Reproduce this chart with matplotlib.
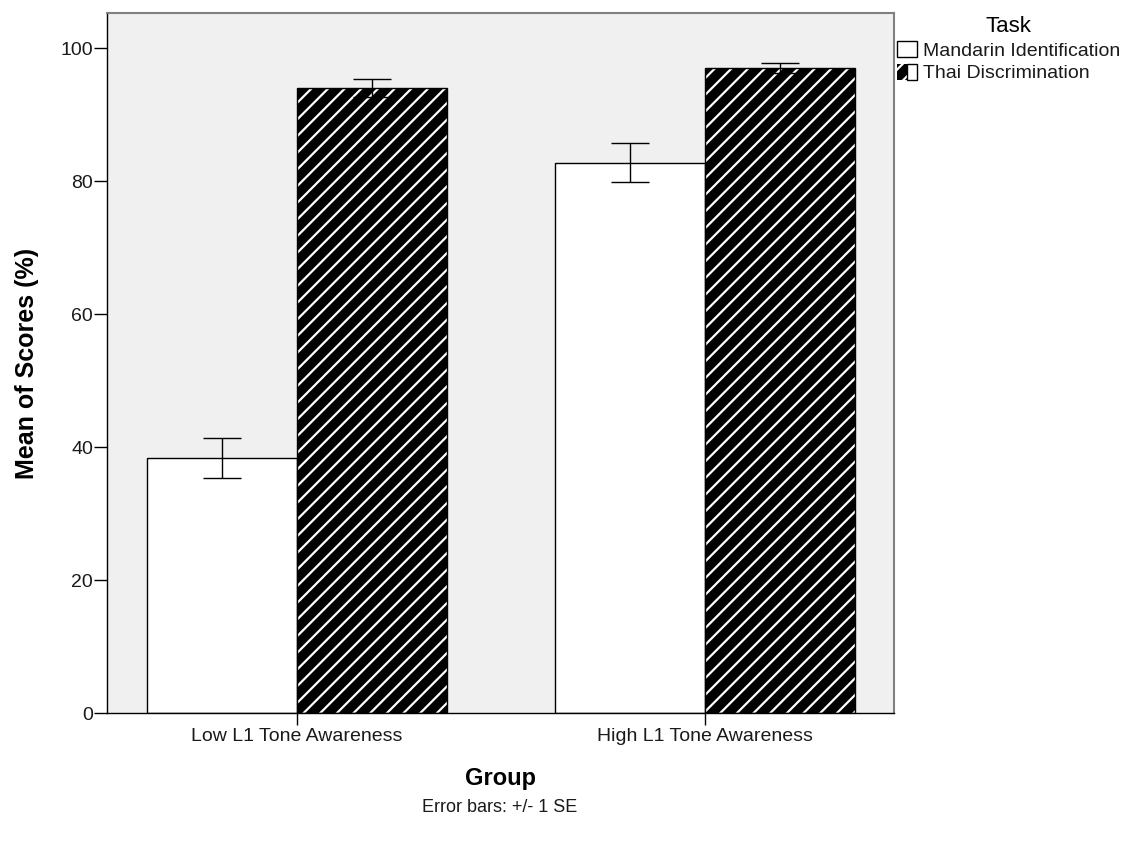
import matplotlib
matplotlib.use("Agg")
import matplotlib.pyplot as plt
import numpy as np
from matplotlib.patches import Patch
from matplotlib.legend_handler import HandlerTuple

plt.rcParams['font.family'] = ['Liberation Sans', 'DejaVu Sans']
plt.rcParams['hatch.linewidth'] = 1.6

groups = ["Low L1 Tone Awareness", "High L1 Tone Awareness"]
tasks = ["Mandarin Identification", "Thai Discrimination"]
mandarin_mean = [38.3, 82.75]
mandarin_se = [3.0, 2.93]
thai_mean = [94.0, 97.05]
thai_se = [1.3, 0.75]
yticks = [0, 20, 40, 60, 80, 100]

fig = plt.figure(figsize=(11.43, 8.43), dpi=100)
ax = fig.add_axes([107/1143, 1-713/843, (894-107)/1143, (713-13)/843])
ax.set_facecolor('#f0f0f0')

x = np.arange(len(groups))
w = 0.368

ax.bar(x - w/2, mandarin_mean, width=w, color='white', edgecolor='black', linewidth=1.0, zorder=2)
ax.bar(x + w/2, thai_mean, width=w, color='black', edgecolor='white', hatch='//', linewidth=0, zorder=2)
ax.bar(x + w/2, thai_mean, width=w, fill=False, edgecolor='black', linewidth=1.0, zorder=3)

ax.errorbar(x - w/2, mandarin_mean, yerr=mandarin_se, fmt='none', ecolor='black',
            elinewidth=1.0, capsize=13.5, capthick=1.0, zorder=4)
ax.errorbar(x + w/2, thai_mean, yerr=thai_se, fmt='none', ecolor='black',
            elinewidth=1.0, capsize=13.5, capthick=1.0, zorder=4)

ax.set_xlim(-0.466, 1.463)
ax.set_ylim(0, 105.3)
ax.set_yticks(yticks)
ax.set_xticks(x)
ax.set_xticklabels(groups)
ax.tick_params(axis='y', length=9.5, width=1, pad=0.5, labelsize=14, labelcolor='#1a1a1a')
ax.tick_params(axis='x', length=8.5, width=1, pad=2, labelsize=14, labelcolor='#1a1a1a')
for s in ['left', 'bottom']:
    ax.spines[s].set_color('black')
    ax.spines[s].set_linewidth(1.0)
for s in ['top', 'right']:
    ax.spines[s].set_color('#808080')
    ax.spines[s].set_linewidth(1.5)

ax.set_ylabel("Mean of Scores (%)", fontsize=18, fontweight='bold', va='center')
ax.yaxis.set_label_coords((27-107)/787, 0.5)
ax.set_xlabel("Group", fontsize=17, fontweight='bold', va='center')
ax.xaxis.set_label_coords(0.5, (713-778)/700)

fig.text(500/1143, 1-808/843, "Error bars: +/- 1 SE", fontsize=13, ha='center', va='center',
         color='#1a1a1a')

h1 = Patch(facecolor='white', edgecolor='black', linewidth=1.0)
h2a = Patch(facecolor='black', edgecolor='white', hatch='//', linewidth=0)
h2b = Patch(fill=False, edgecolor='black', linewidth=1.0)
leg = fig.legend([h1, (h2a, h2b)], tasks, title="Task",
                 loc='upper left', bbox_to_anchor=(897/1143, 1-16/843),
                 frameon=False, fontsize=14, title_fontsize=16,
                 handlelength=1.05, handleheight=0.9, handletextpad=0.3,
                 borderaxespad=0, borderpad=0.0, labelspacing=0.2,
                 handler_map={tuple: HandlerTuple(ndivide=None, pad=0)})
leg._legend_box.align = "center"
for t in leg.get_texts():
    t.set_color('#1a1a1a')

fig.savefig("out.png", dpi=100)
